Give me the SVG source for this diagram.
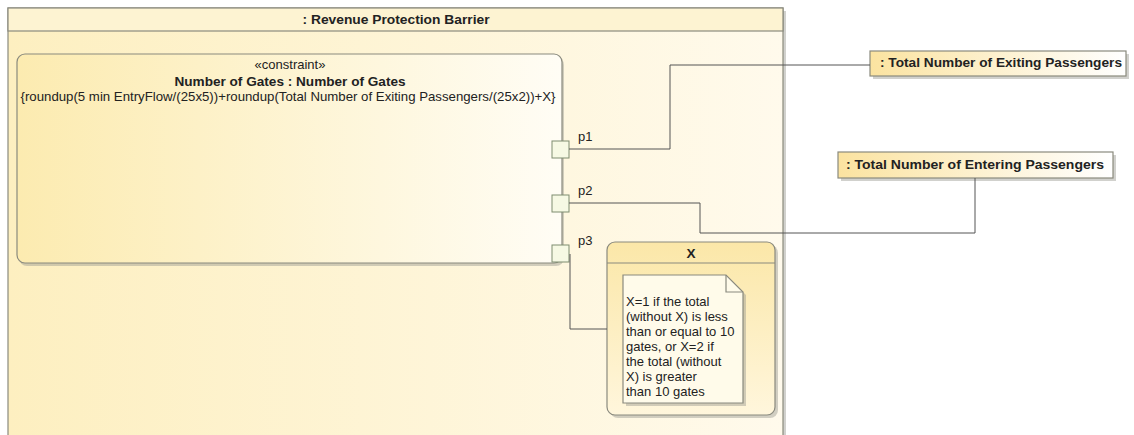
<svg xmlns="http://www.w3.org/2000/svg" width="1134" height="435" viewBox="0 0 1134 435">
<defs>
<linearGradient id="gFrame" x1="0" y1="0" x2="1" y2="0">
<stop offset="0" stop-color="#fdefc0"/>
<stop offset="1" stop-color="#fffaec"/>
</linearGradient>
<linearGradient id="gBox" x1="0" y1="0" x2="1" y2="0">
<stop offset="0" stop-color="#fcebb0"/>
<stop offset="1" stop-color="#fffdf5"/>
</linearGradient>
<linearGradient id="gPart" x1="0" y1="0" x2="1" y2="0">
<stop offset="0" stop-color="#fbe3a0"/>
<stop offset="1" stop-color="#ffffff"/>
</linearGradient>
<linearGradient id="gX" x1="0" y1="0" x2="0" y2="1">
<stop offset="0" stop-color="#fbe7a8"/>
<stop offset="1" stop-color="#fff6dc"/>
</linearGradient>
</defs>
<style>
text { font-family: "Liberation Sans", Arial, sans-serif; font-size: 13px; fill: #222; }
.b { font-weight: bold; font-size: 13.6px; }
.c { text-anchor: middle; }
.shadow { fill: #9a9a90; opacity: 0.45; }
.edge { stroke: #8a8a7e; stroke-width: 1.2; }
.conn { fill: none; stroke: #555; stroke-width: 1; }
.port { fill: #f6f9e4; stroke: #7f8d70; stroke-width: 1; }
.note { font-size: 13px; }
</style>
<rect width="1134" height="435" fill="#ffffff"/>

<g id="frame">
<rect x="11" y="11" width="775" height="440" class="shadow"/>
<rect x="8" y="8" width="775" height="440" fill="url(#gFrame)" class="edge"/>
<rect x="8" y="8" width="775" height="23" fill="#fdf3d2" class="edge"/>
<text x="396" y="24" class="b c" textLength="187" lengthAdjust="spacingAndGlyphs">: Revenue Protection Barrier</text>
</g>

<g id="constraint">
<rect x="19" y="57" width="545" height="209" rx="8" class="shadow"/>
<rect x="17" y="54" width="545" height="209" rx="8" fill="url(#gBox)" class="edge"/>
<text x="290" y="69" class="c">«constraint»</text>
<text x="290" y="86" class="b c">Number of Gates : Number of Gates</text>
<text x="288" y="101" class="c" textLength="535" lengthAdjust="spacingAndGlyphs">{roundup(5 min EntryFlow/(25x5))+roundup(Total Number of Exiting Passengers/(25x2))+X}</text>
</g>

<g id="port-p1">
<rect x="552" y="141" width="17" height="17" class="port"/>
<text x="578" y="141">p1</text>
</g>
<g id="port-p2">
<rect x="552" y="195" width="17" height="17" class="port"/>
<text x="578" y="195">p2</text>
</g>
<g id="port-p3">
<rect x="552" y="245" width="17" height="17" class="port"/>
<text x="578" y="245">p3</text>
</g>

<g id="exiting">
<rect x="873" y="54" width="256" height="25" class="shadow"/>
<rect x="870" y="51" width="256" height="25" fill="url(#gPart)" class="edge"/>
<text x="1001" y="67" class="b c" textLength="242" lengthAdjust="spacingAndGlyphs">: Total Number of Exiting Passengers</text>
</g>

<g id="entering">
<rect x="841" y="155" width="275" height="26" class="shadow"/>
<rect x="838" y="152" width="275" height="26" fill="url(#gPart)" class="edge"/>
<text x="975" y="169" class="b c" textLength="258" lengthAdjust="spacingAndGlyphs">: Total Number of Entering Passengers</text>
</g>

<g id="x-part">
<rect x="610" y="245" width="168" height="173" rx="8" class="shadow"/>
<rect x="607" y="242" width="168" height="173" rx="8" fill="url(#gX)" class="edge"/>
<line x1="607" y1="263" x2="775" y2="263" class="edge"/>
<text x="691" y="258" class="b c">X</text>
</g>

<g id="note">
<path d="M626,278 H729 L746,295 V406 H626 Z" class="shadow"/>
<path d="M623,275 H726 L743,292 V403 H623 Z" fill="#fffbea" class="edge"/>
<path d="M726,275 V292 H743" fill="none" class="edge"/>
<text x="626" y="306" class="note">X=1 if the total</text>
<text x="626" y="321" class="note">(without X) is less</text>
<text x="626" y="336" class="note">than or equal to 10</text>
<text x="626" y="351" class="note">gates, or X=2 if</text>
<text x="626" y="366" class="note">the total (without</text>
<text x="626" y="381" class="note">X) is greater</text>
<text x="626" y="396" class="note">than 10 gates</text>
</g>

<g id="connectors">
<path d="M569,149 H670 V65 H870" class="conn"/>
<path d="M569,203 H700 V233 H975 V178" class="conn"/>
<path d="M570,254 V329 H607" class="conn"/>
</g>
</svg>
